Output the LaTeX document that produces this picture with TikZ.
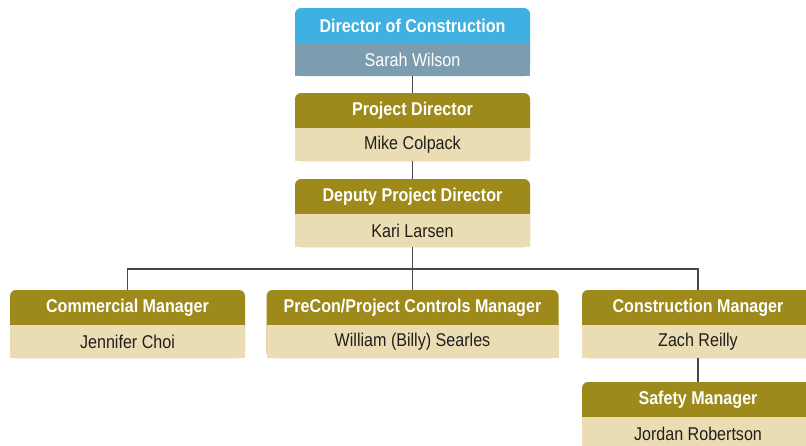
\documentclass[tikz,border=0pt]{standalone}
\usepackage{fontspec}
\setmainfont{Liberation Sans}[FakeStretch=0.87]
\definecolor{topblue}{RGB}{62,176,226}
\definecolor{slatebar}{RGB}{124,156,176}
\definecolor{olive}{RGB}{158,138,26}
\definecolor{sand}{RGB}{234,221,180}
\definecolor{linkgrey}{RGB}{72,72,72}
\definecolor{inktext}{RGB}{34,30,28}
% one org-chart card: title band over a name band
\newcommand\orgcard[8]{%
  \node[cardbg, fill=#5, minimum width=#4, anchor=north] (#1) at (#2,#3) {};
  \node[titleband, minimum width=#4, anchor=north] (#1-t) at (#1.north) {#7};
  \node[nameband, fill=#6, minimum width=#4, anchor=south] (#1-n) at (#1.south) {#8};
}
\begin{document}
\begin{tikzpicture}[x=1pt,y=-1pt,
  cardbg/.style={rectangle, rounded corners=6pt, minimum height=68pt, inner sep=0pt, outer sep=0pt},
  titleband/.style={rectangle, minimum height=35pt, inner sep=0pt, outer sep=0pt, text=white,
    font=\fontsize{18.5}{20}\selectfont\bfseries},
  nameband/.style={rectangle, minimum height=33pt, inner sep=0pt, outer sep=0pt, text=inktext,
    font=\fontsize{18.5}{20}\selectfont},
  link/.style={draw=linkgrey, line width=1.6pt}]
\useasboundingbox (0,0) rectangle (806,445);
\clip (0,0) rectangle (806,445);

\orgcard{dc}{412.5}{8}{235}{topblue}{slatebar}{Director of Construction}{\color{white}Sarah Wilson}
\orgcard{pd}{412.5}{93}{235}{olive}{sand}{Project Director}{Mike Colpack}
\orgcard{dpd}{412.5}{179}{235}{olive}{sand}{Deputy Project Director}{Kari Larsen}
\orgcard{cm}{127.5}{290}{235}{olive}{sand}{Commercial Manager}{Jennifer Choi}
\orgcard{pc}{412.5}{290}{292}{olive}{sand}{PreCon/Project Controls Manager}{William (Billy) Searles}
\orgcard{con}{698}{290}{232}{olive}{sand}{Construction Manager}{Zach Reilly}
\orgcard{sm}{698}{382}{232}{olive}{sand}{Safety Manager}{Jordan Robertson}

% reporting lines
\coordinate (bus) at (412.5,269);
\draw[link] (dc.south) -- (pd.north);
\draw[link] (pd.south) -- (dpd.north);
\draw[link] (dpd.south) -- (bus);
\draw[link] (cm.north) |- (bus) -| (con.north);
\draw[link] (bus) -- (pc.north);
\draw[link] (con.south) -- (sm.north);
\end{tikzpicture}
\end{document}
